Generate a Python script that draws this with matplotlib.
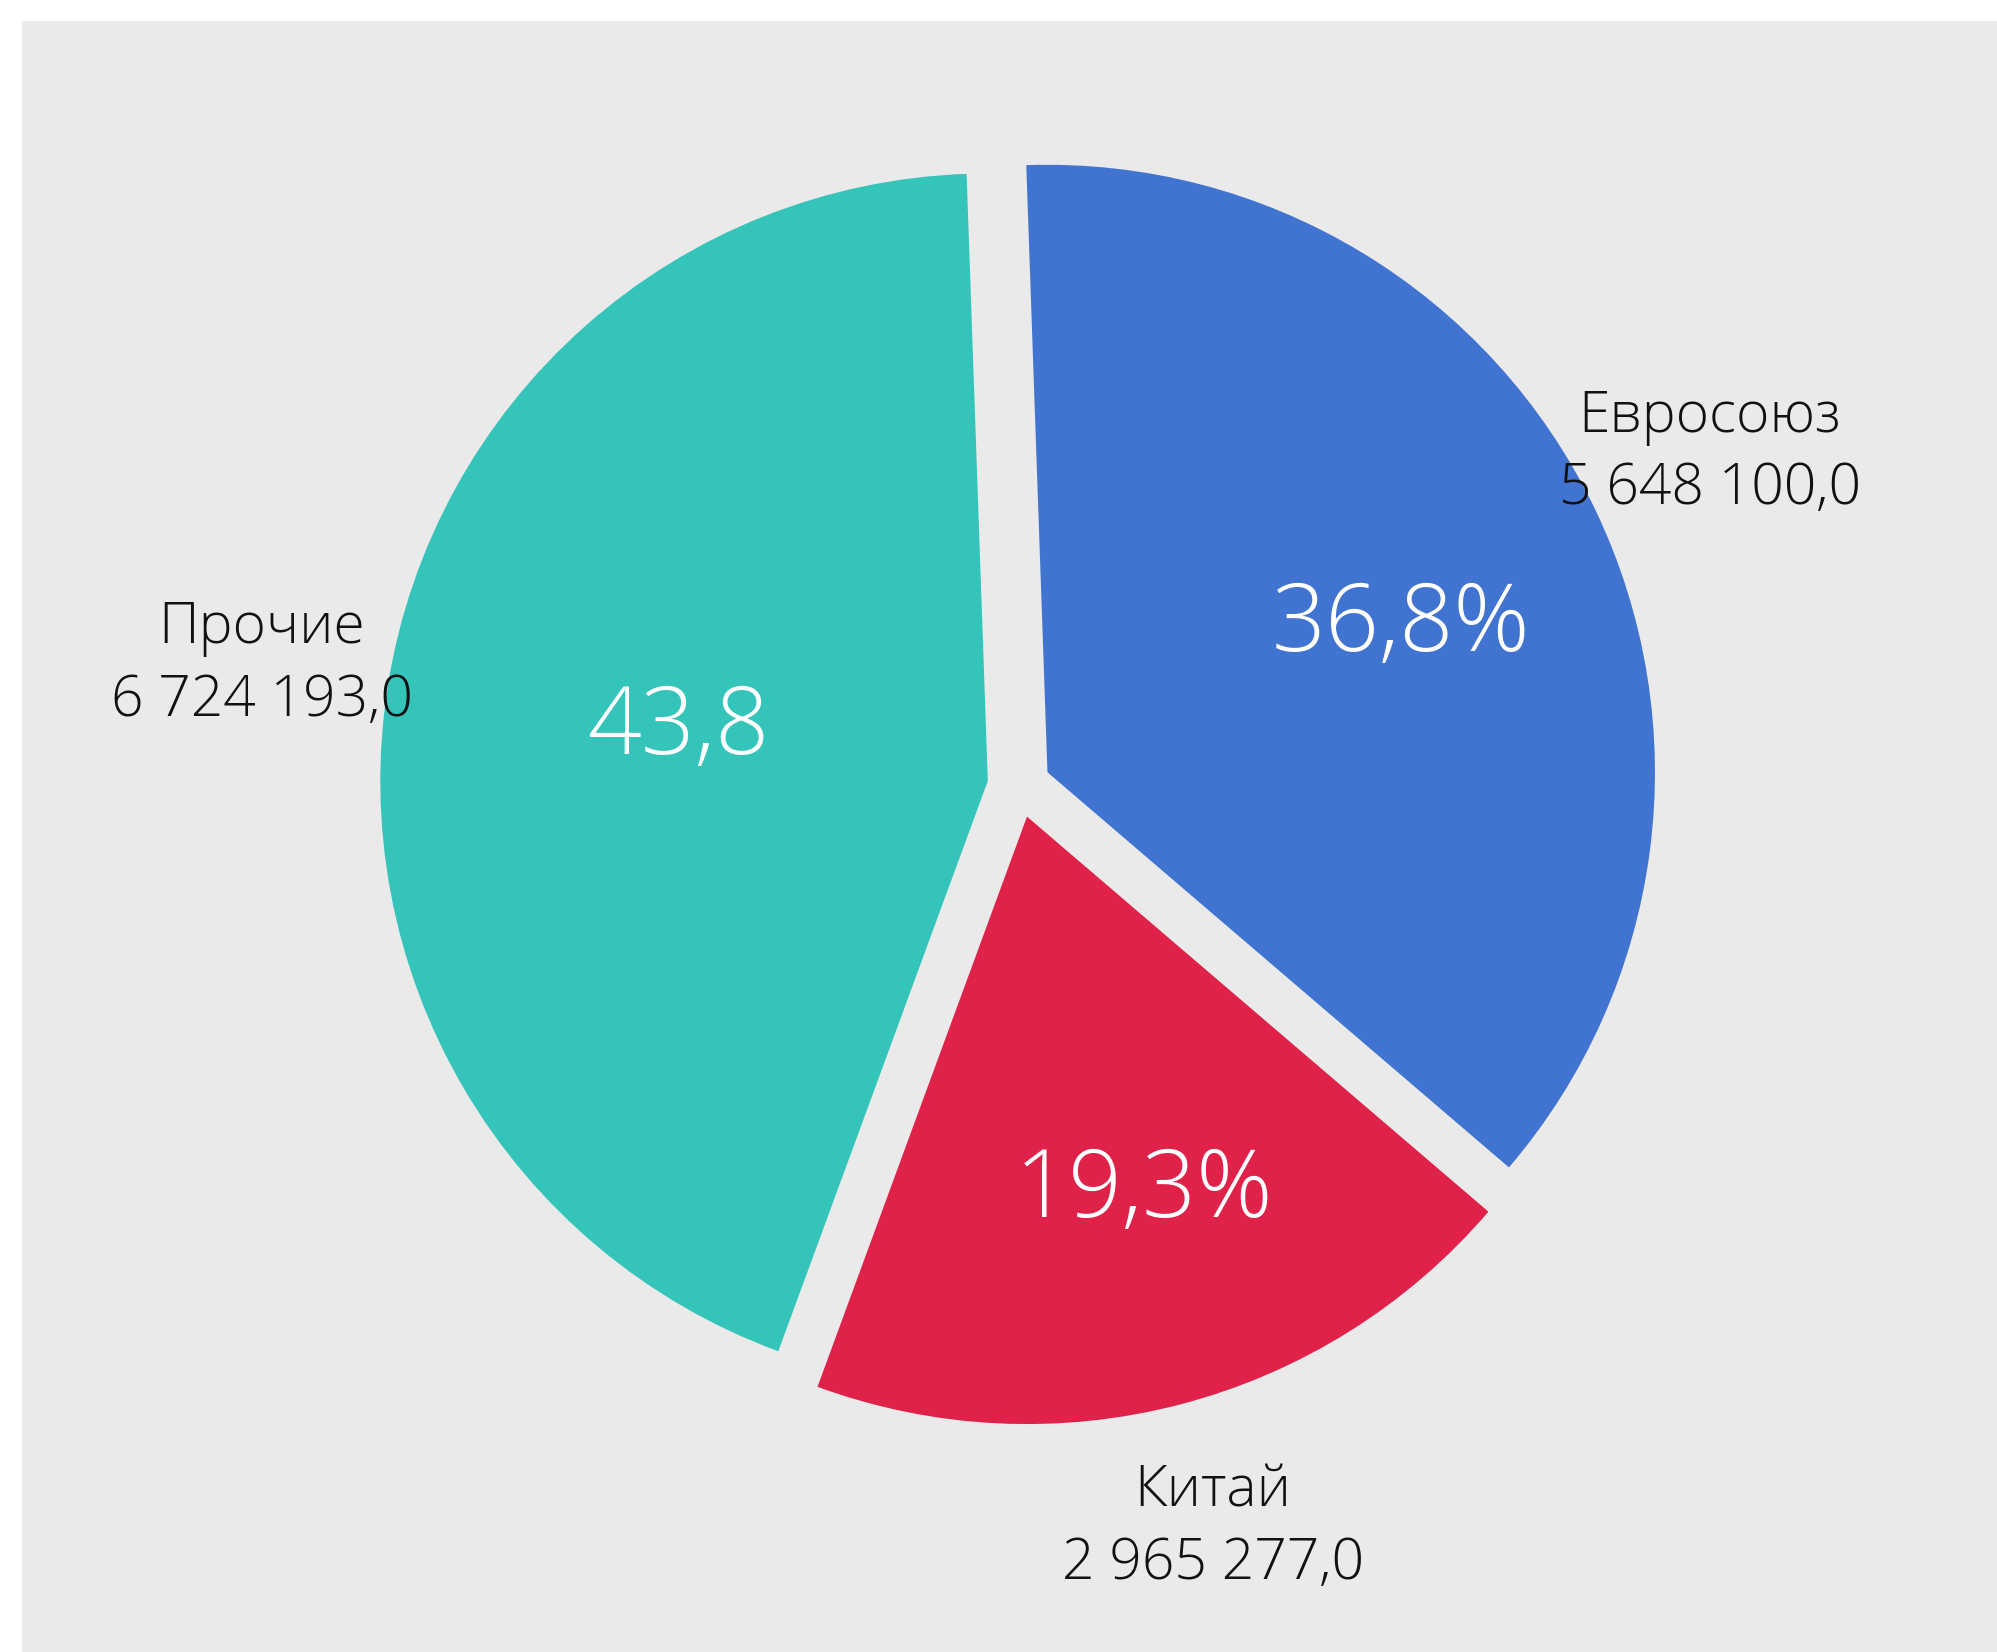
import numpy as np
import matplotlib.pyplot as plt
from matplotlib.patches import Rectangle

plt.rcParams['font.family'] = ['Open Sans', 'DejaVu Sans']

# data
regions = ['Евросоюз', 'Китай', 'Прочие']
values = [5648100.0, 2965277.0, 6724193.0]
colors = ['#4174D0', '#E0224A', '#34C4BA']
show_percent_sign = [True, True, False]
pct_dist = [0.637, 0.63, 0.52]
pct_angle_shift = [-1.75, 3.2, -2.3]


def fmt_num(v):
    return f"{v:,.1f}".replace(',', ' ').replace('.', ',')


labels = [f"{r}\n{fmt_num(v)}" for r, v in zip(regions, values)]

fig = plt.figure(figsize=(19.97, 16.52), dpi=100)
fig.patch.set_facecolor('white')
fig.patches.append(Rectangle((22 / 1997, 0), 1, 1 - 21 / 1652,
                             transform=fig.transFigure, facecolor='#EAEAEA',
                             edgecolor='none', zorder=-10))

ax = fig.add_axes([0, 0, 1, 1])
ax.set_facecolor('none')

wedges, texts, autotexts = ax.pie(
    values, labels=labels, colors=colors, startangle=92, counterclock=False,
    explode=[0.052] * 3, labeldistance=1.21, autopct='%.1f%%', pctdistance=0.63,
    textprops=dict(fontsize=41, color='#111111', linespacing=1.35,
                   fontweight='light'),
    wedgeprops=dict(linewidth=0))

for t in texts:
    t.set_horizontalalignment('center')
    t.set_verticalalignment('center')

for w, t, sign, d, da in zip(wedges, autotexts, show_percent_sign, pct_dist,
                             pct_angle_shift):
    s = t.get_text().replace('.', ',')
    if not sign:
        s = s.rstrip('%')
    t.set_text(s)
    t.set_color('white')
    t.set_fontsize(68)
    t.set_verticalalignment('center_baseline')
    ang = np.deg2rad((w.theta1 + w.theta2) / 2 + da)
    cx, cy = w.center
    t.set_position((cx + d * w.r * np.cos(ang), cy + d * w.r * np.sin(ang)))

r_px = 607.5
ax.set_xlim(-1019 / r_px, (1997 - 1019) / r_px)
ax.set_ylim(-(1652 - 786) / r_px, 786 / r_px)
ax.set_aspect('auto')
ax.axis('off')

fig.savefig('out.png', dpi=100, facecolor=fig.get_facecolor())
